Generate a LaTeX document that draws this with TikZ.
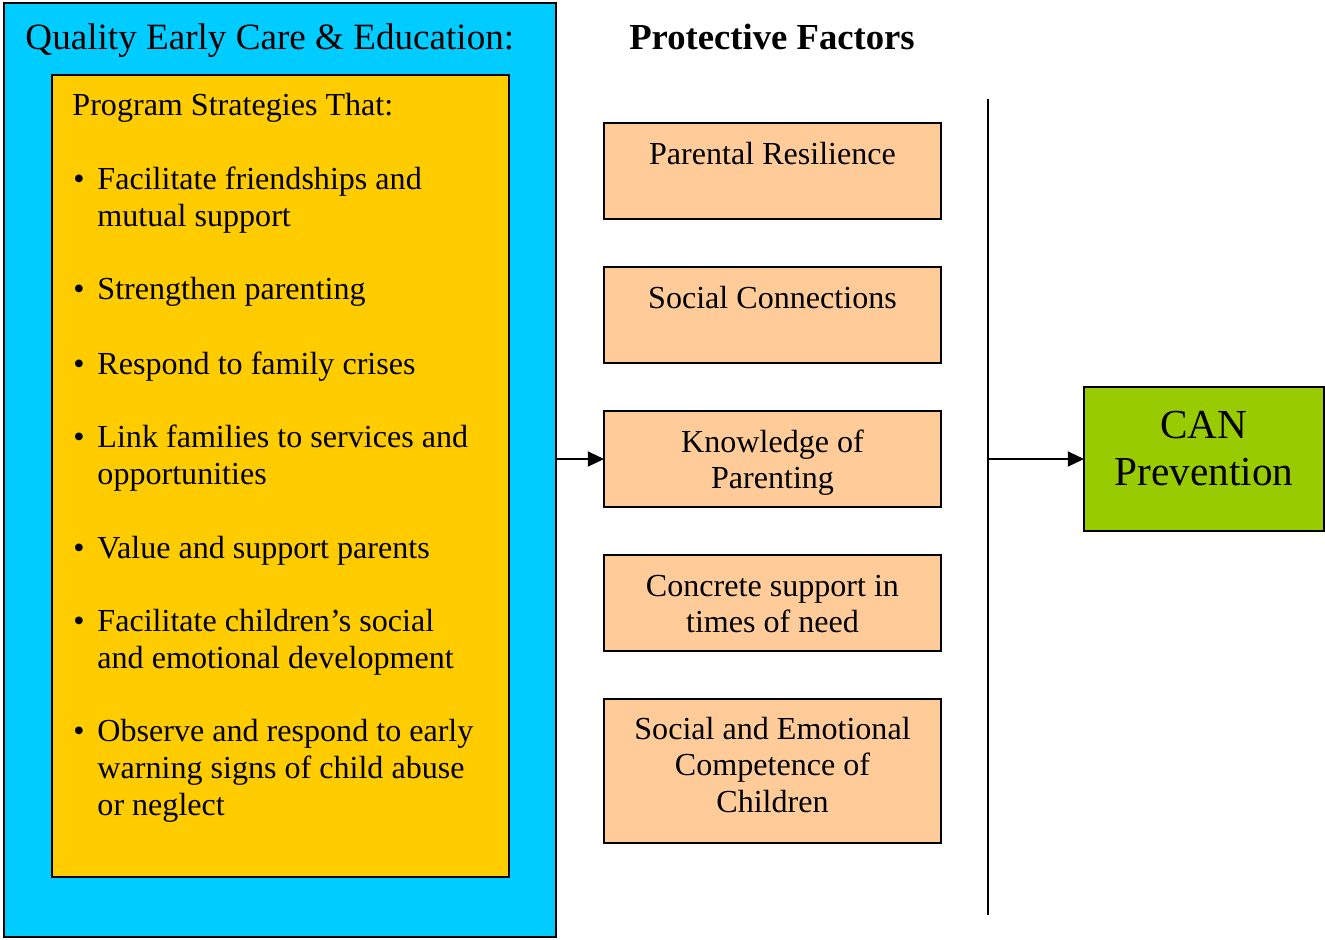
\documentclass[tikz,border=0pt]{standalone}
\usepackage{fontspec}
\setmainfont{Liberation Serif}
\usetikzlibrary{arrows.meta}
\definecolor{qblue}{HTML}{00CCFF}
\definecolor{qyellow}{HTML}{FFCC00}
\definecolor{qpeach}{HTML}{FFCC99}
\definecolor{qgreen}{HTML}{99CC00}
\def\u{0.43635pt}
\begin{document}
\begin{tikzpicture}[x=0.43635pt,y=-0.43635pt,
  box/.style={draw=black,line width=0.7pt,inner sep=0pt,outer sep=0pt},
  pbox/.style={box,fill=qpeach,minimum width=337*\u},
  txt/.style={inner sep=0pt,anchor=base west,font=\fontsize{14}{16.1}\selectfont},
  ctxt/.style={inner sep=0pt,anchor=base,font=\fontsize{14}{16.1}\selectfont},
  conn/.style={line width=0.7pt,-{Triangle[length=7pt,width=6.5pt]}}]
\useasboundingbox (0,0) rectangle (1325,939);
% outer blue box
\node[box,fill=qblue,minimum width=552*\u,minimum height=934*\u] (qece) at (280,470) {};
\node[inner sep=0pt,anchor=base west,font=\fontsize{16.2}{18.6}\selectfont] (title) at (25,49) {Quality Early Care \& Education:};
% yellow box
\node[box,fill=qyellow,minimum width=457*\u,minimum height=802*\u] (strat) at (280.5,476) {};
\node[txt] (sthead) at (72,115) {Program Strategies That:};
% bullets
\foreach \y/\n in {189.5/1,299.5/2,374.5/3,447.5/4,558.5/5,631.5/6,741.5/7}
  \node[ctxt] (dot\n) at (79,\y) {•};
\node[txt] (b1) at (97,189.5) {\parbox[t]{250pt}{Facilitate friendships and\\mutual support}};
\node[txt] (b2) at (97,299.5) {Strengthen parenting};
\node[txt] (b3) at (97,374.5) {Respond to family crises};
\node[txt] (b4) at (97,447.5) {\parbox[t]{250pt}{Link families to services and\\opportunities}};
\node[txt] (b5) at (97,558.5) {Value and support parents};
\node[txt] (b6) at (97,631.5) {\parbox[t]{250pt}{Facilitate children’s social\\and emotional development}};
\node[txt] (b7) at (97,741.5) {\parbox[t]{250pt}{Observe and respond to early\\warning signs of child abuse\\or neglect}};
% protective factors
\node[inner sep=0pt,anchor=base,font=\fontsize{16}{18.4}\selectfont\bfseries] (pfhead) at (772,49) {Protective Factors};
\node[pbox,minimum height=96*\u] (pf1) at (772.5,171) {};
\node[pbox,minimum height=96*\u] (pf2) at (772.5,315) {};
\node[pbox,minimum height=96*\u] (pf3) at (772.5,459) {};
\node[pbox,minimum height=96*\u] (pf4) at (772.5,603) {};
\node[pbox,minimum height=144*\u] (pf5) at (772.5,771) {};
\node[ctxt] (t1) at (772.5,164) {Parental Resilience};
\node[ctxt] (t2) at (772.5,308) {Social Connections};
\node[ctxt] (t3) at (772.5,452) {\parbox[t]{150pt}{\centering Knowledge of\\Parenting}};
\node[ctxt] (t4) at (772.5,596) {\parbox[t]{150pt}{\centering Concrete support in\\times of need}};
\node[ctxt] (t5) at (772.5,739) {\parbox[t]{150pt}{\centering Social and Emotional\\Competence of\\Children}};
% vertical bar
\coordinate (vtop) at (988,99);
\coordinate (vbot) at (988,915);
\coordinate (vmid) at (988,459);
\draw[line width=0.9pt] (vtop) -- (vbot);
% outcome
\node[box,fill=qgreen,minimum width=240*\u,minimum height=144*\u] (can) at (1204,459) {};
\node[inner sep=0pt,anchor=base,font=\fontsize{18}{20.9}\selectfont] (cantxt) at (1204,438) {\parbox[t]{120pt}{\centering CAN\\Prevention}};
% connectors
\draw[conn] (qece.east |- pf3) -- (pf3.west);
\draw[conn] (vmid) -- (can.west);
\end{tikzpicture}
\end{document}
